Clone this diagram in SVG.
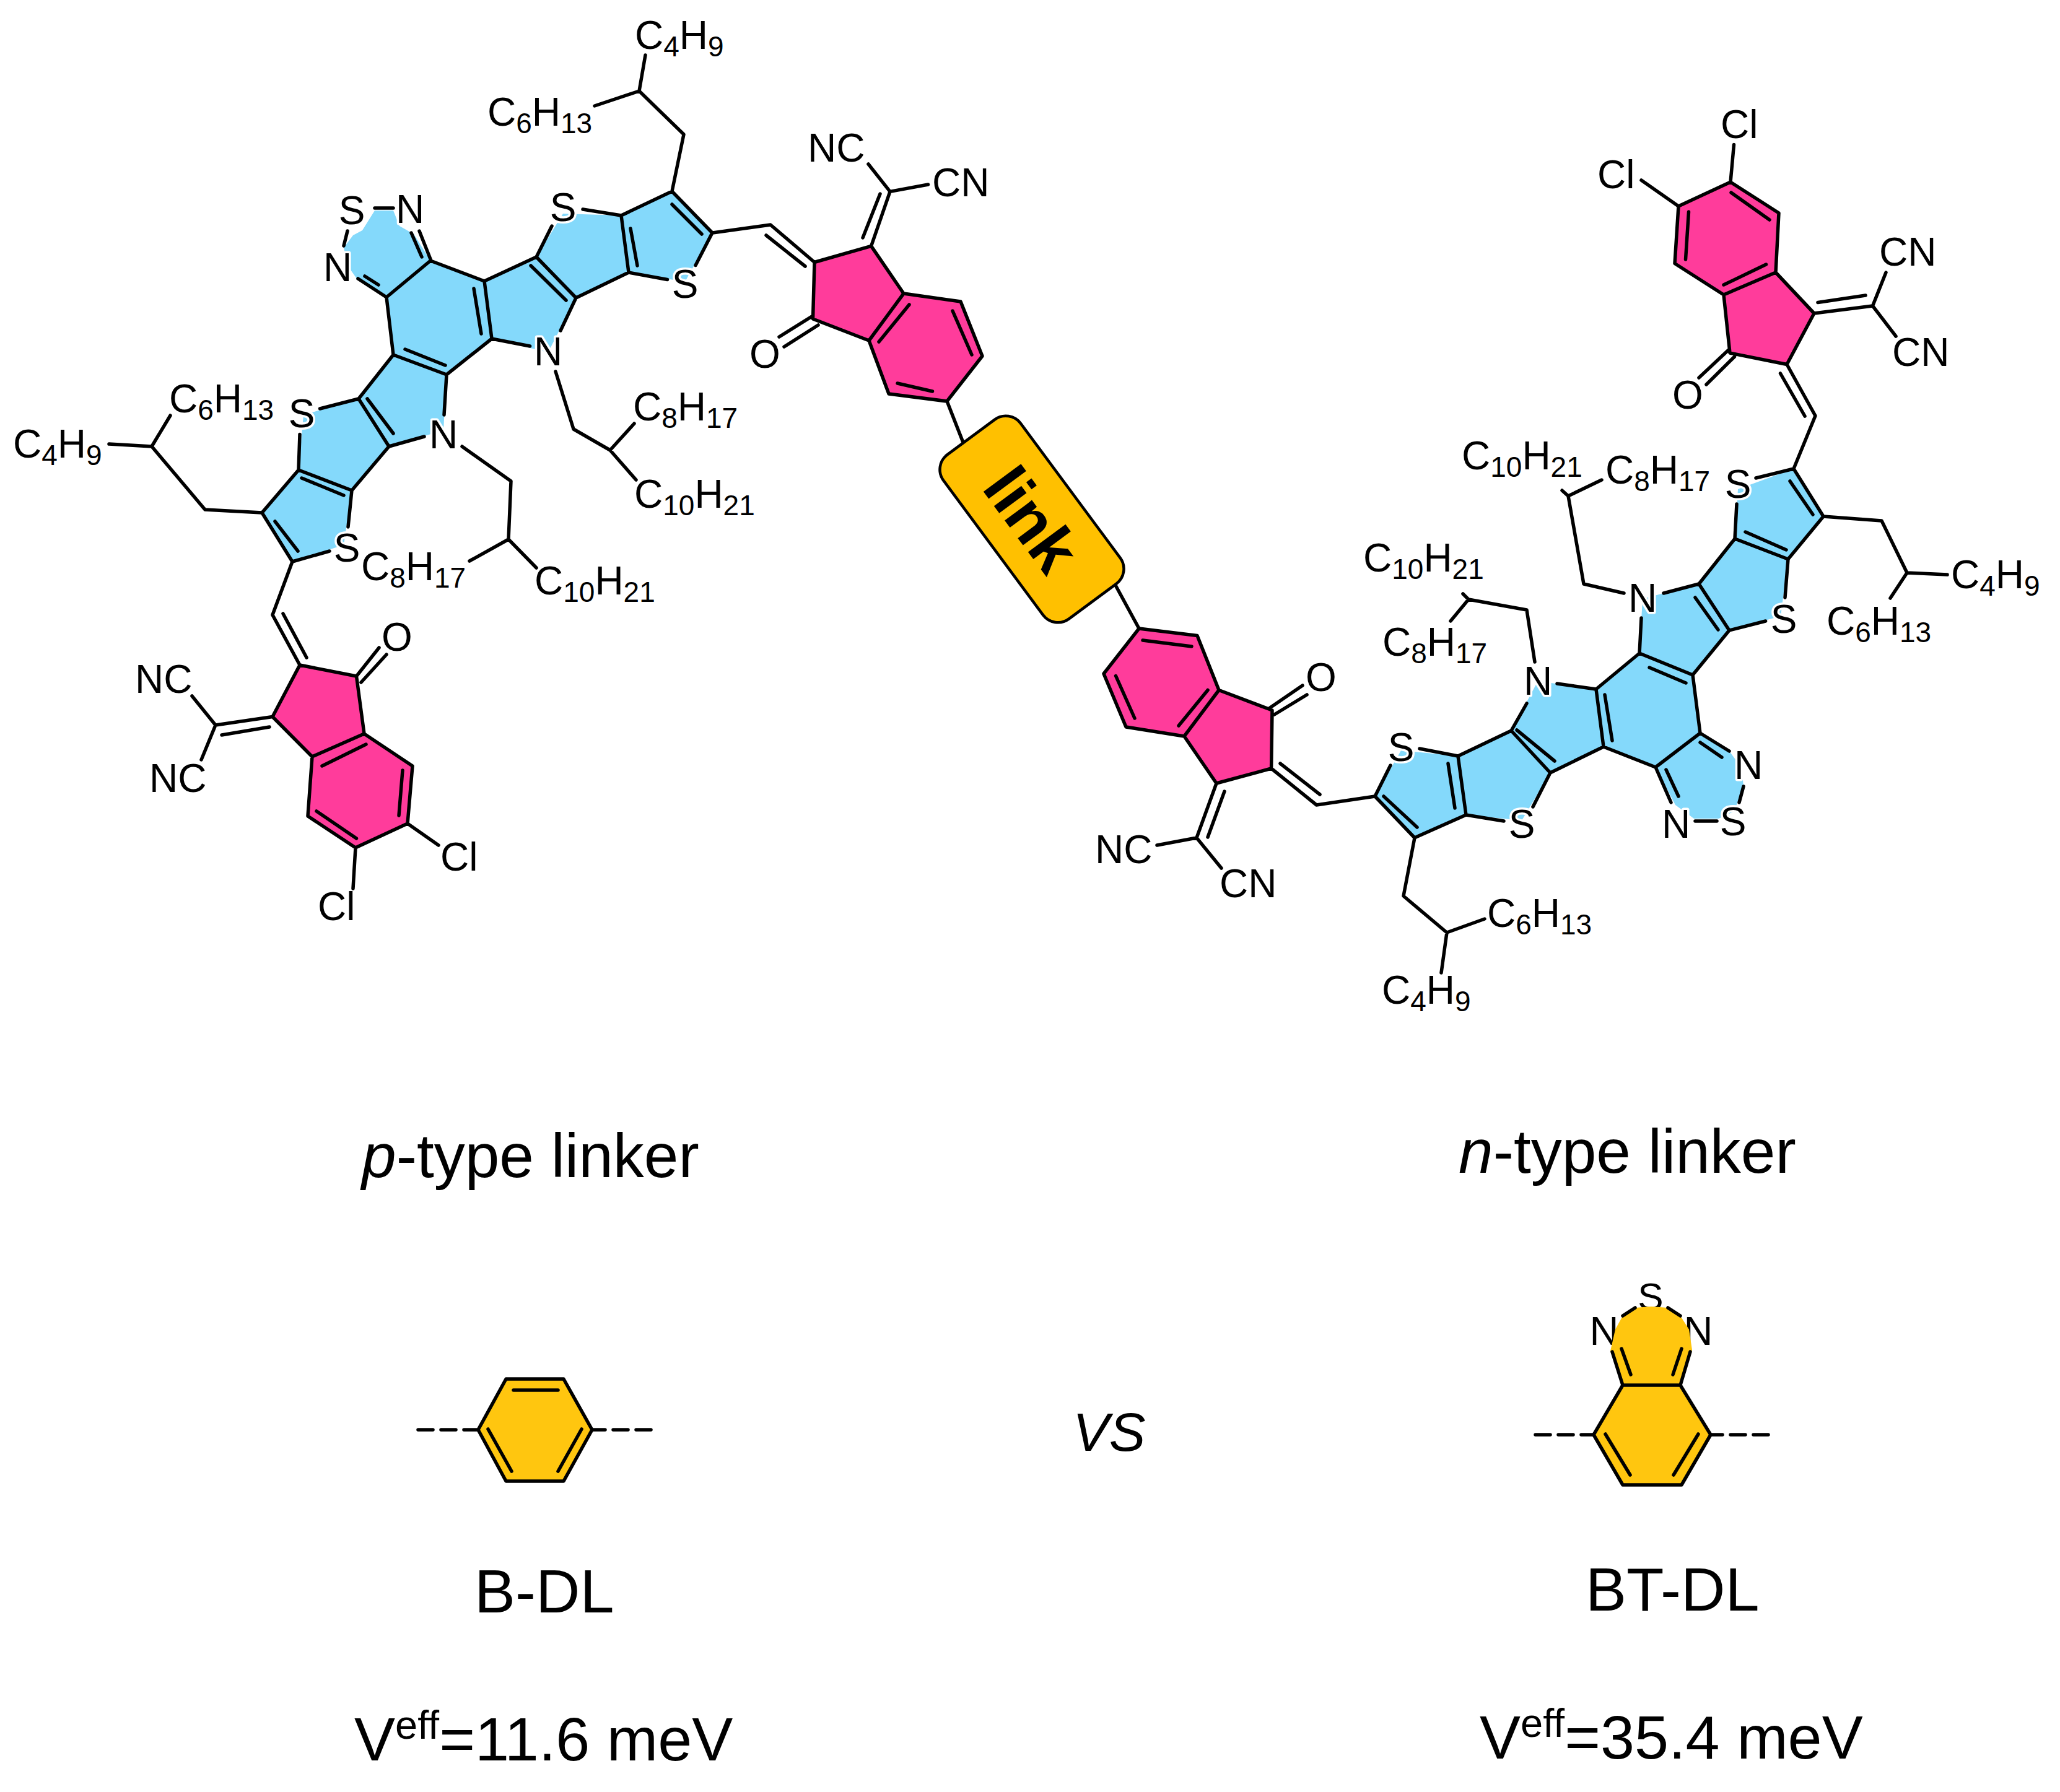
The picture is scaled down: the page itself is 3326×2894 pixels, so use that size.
<svg xmlns="http://www.w3.org/2000/svg" width="3326" height="2894" viewBox="0 0 3326 2894">
<style>
text{font-family:"Liberation Sans",Arial,sans-serif;fill:#000}
.t{font-size:64px}
.h{font-size:64px;text-anchor:middle;stroke:#fff;stroke-width:7px;paint-order:stroke;stroke-linejoin:round}
.s{font-size:46px}
.b{fill:none;stroke:#000;stroke-width:5.5;stroke-linecap:round;stroke-linejoin:round}
.y{fill:#FFC60F;stroke:none}
.d{fill:none;stroke:#000;stroke-width:5.5;stroke-dasharray:24 13;stroke-linecap:round}
.blue{fill:#84D9FB}
.pink{fill:#FF3C9B}
.big{font-size:99px}
.sup{font-size:65px}
</style>
<rect width="3326" height="2894" fill="#fff"/>

<g id="p-type-linker">
<g class="blue">
<polygon points="605,340 635,340 645,365 668,378 695,421 624,480 576,450 562,430 555,400 570,380 585,372"/>
<polygon points="695,421 782,454 794,547 721,605 635,573 624,480"/>
<polygon points="782,454 866,415 930,481 885,569 794,547"/>
<polygon points="866,415 909,345 1003,348 1015,440 930,481"/>
<polygon points="1003,348 1085,309 1150,376 1106,455 1015,440"/>
<polygon points="721,605 635,573 579,644 628,721 716,695"/>
<polygon points="579,644 490,670 482,759 568,792 628,721"/>
<polygon points="482,759 423,828 472,907 555,880 568,792"/>
</g>
<g class="pink">
<polygon points="484,1074 575.5,1092 588,1185 504,1222 440,1157.5"/>
<polygon points="588,1185 666,1237 658,1330 574,1369 497,1318 504,1222"/>
</g>
<g>
<text class="h" x="568" y="362">S</text>
<text class="h" x="662" y="360">N</text>
<text class="h" x="545" y="454">N</text>
<text class="h" x="909" y="357">S</text>
<text class="h" x="1106" y="481">S</text>
<text class="h" x="885" y="590">N</text>
<text class="h" x="716" y="724">N</text>
<text class="h" x="487" y="690">S</text>
<text class="h" x="560" y="907">S</text>
<text class="t" x="1025" y="79">C<tspan class="s" dy="12">4</tspan><tspan dy="-12">H</tspan><tspan class="s" dy="12">9</tspan></text>
<text class="t" x="787" y="203">C<tspan class="s" dy="12">6</tspan><tspan dy="-12">H</tspan><tspan class="s" dy="12">13</tspan></text>
<text class="t" x="1022" y="679">C<tspan class="s" dy="12">8</tspan><tspan dy="-12">H</tspan><tspan class="s" dy="12">17</tspan></text>
<text class="t" x="1024" y="820">C<tspan class="s" dy="12">10</tspan><tspan dy="-12">H</tspan><tspan class="s" dy="12">21</tspan></text>
<text class="t" x="273" y="666">C<tspan class="s" dy="12">6</tspan><tspan dy="-12">H</tspan><tspan class="s" dy="12">13</tspan></text>
<text class="t" x="21" y="739">C<tspan class="s" dy="12">4</tspan><tspan dy="-12">H</tspan><tspan class="s" dy="12">9</tspan></text>
<text class="t" x="583" y="937">C<tspan class="s" dy="12">8</tspan><tspan dy="-12">H</tspan><tspan class="s" dy="12">17</tspan></text>
<text class="t" x="863" y="960">C<tspan class="s" dy="12">10</tspan><tspan dy="-12">H</tspan><tspan class="s" dy="12">21</tspan></text>
<text class="t" x="616" y="1051">O</text>
<text class="t" x="218" y="1119">NC</text>
<text class="t" x="241" y="1279">NC</text>
<text class="t" x="711" y="1406">Cl</text>
<text class="t" x="513" y="1486">Cl</text>
<text class="t" x="1304" y="261">NC</text>
<text class="t" x="1505" y="317">CN</text>
<text class="t" x="1210" y="594">O</text>
</g>
</g>

<g id="link-node">
<g class="pink">
<polygon points="1315,423.5 1406.6,397.4 1459,474 1403,550 1312.5,515"/>
<polygon points="1459,474 1551,487 1586,575 1529,648 1435,636 1403,550"/>
<polygon points="1964,1265 2052.6,1241 2054,1147 1968,1114.5 1912,1189"/>
<polygon points="1839,1015 1933,1026.5 1968,1114.5 1912,1189 1818,1174 1782,1088"/>
</g>
<path class="b" d="M1529,648L1556,717M1801.5,946L1839,1015"/>
<rect x="1501" y="761" width="330" height="155" rx="30" fill="#FFC000" stroke="#000" stroke-width="4.5" transform="rotate(53.5 1666 838.5)"/>
<text x="1666" y="875" font-size="104" font-weight="700" text-anchor="middle" transform="rotate(53.5 1666 838.5)">link</text>
</g>

<g id="n-type-linker">
<g class="blue">
<polygon points="2896,757 2806,790 2801,870 2887,903 2944,834"/>
<polygon points="2801,870 2887,903 2875,995 2792,1018 2743,943"/>
<polygon points="2743,943 2792,1018 2733,1090 2647,1055 2652,967"/>
<polygon points="2647,1055 2733,1090 2745,1184 2673,1239 2589,1206 2577,1113"/>
<polygon points="2577,1113 2589,1206 2503,1248 2440,1180 2483,1100"/>
<polygon points="2440,1180 2503,1248 2457,1325 2367,1316 2354,1221"/>
<polygon points="2354,1221 2367,1316 2284,1353 2220,1286 2262,1212"/>
<polygon points="2745,1184 2792,1213 2812,1240 2815,1270 2800,1310 2775,1322 2735,1322 2705,1300 2673,1239"/>
</g>
<g class="pink">
<polygon points="2885,588.5 2793,570 2783,476 2867,440 2929,506"/>
<polygon points="2783,476 2704,425.5 2710,333 2794,294 2872,344 2867,440"/>
</g>
<g>
<text class="h" x="2652" y="988">N</text>
<text class="h" x="2483" y="1122">N</text>
<text class="h" x="2262" y="1229">S</text>
<text class="h" x="2457" y="1353">S</text>
<text class="h" x="2806" y="804">S</text>
<text class="h" x="2880" y="1022">S</text>
<text class="h" x="2823" y="1258">N</text>
<text class="h" x="2706" y="1353">N</text>
<text class="h" x="2798" y="1349">S</text>
<text class="t" x="2401" y="1497">C<tspan class="s" dy="12">6</tspan><tspan dy="-12">H</tspan><tspan class="s" dy="12">13</tspan></text>
<text class="t" x="2231" y="1621">C<tspan class="s" dy="12">4</tspan><tspan dy="-12">H</tspan><tspan class="s" dy="12">9</tspan></text>
<text class="t" x="2360" y="758">C<tspan class="s" dy="12">10</tspan><tspan dy="-12">H</tspan><tspan class="s" dy="12">21</tspan></text>
<text class="t" x="2592" y="781">C<tspan class="s" dy="12">8</tspan><tspan dy="-12">H</tspan><tspan class="s" dy="12">17</tspan></text>
<text class="t" x="2201" y="923">C<tspan class="s" dy="12">10</tspan><tspan dy="-12">H</tspan><tspan class="s" dy="12">21</tspan></text>
<text class="t" x="2232" y="1059">C<tspan class="s" dy="12">8</tspan><tspan dy="-12">H</tspan><tspan class="s" dy="12">17</tspan></text>
<text class="t" x="3150" y="950">C<tspan class="s" dy="12">4</tspan><tspan dy="-12">H</tspan><tspan class="s" dy="12">9</tspan></text>
<text class="t" x="2949" y="1025">C<tspan class="s" dy="12">6</tspan><tspan dy="-12">H</tspan><tspan class="s" dy="12">13</tspan></text>
<text class="t" x="2778" y="223">Cl</text>
<text class="t" x="2579" y="304">Cl</text>
<text class="t" x="3034" y="429">CN</text>
<text class="t" x="3055" y="591">CN</text>
<text class="t" x="2700" y="660">O</text>
<text class="t" x="1768" y="1394">NC</text>
<text class="t" x="1969" y="1449">CN</text>
<text class="t" x="2108" y="1116">O</text>
</g>
</g>

<g id="bonds">
<path class="b" d="M605,336L635,336M561,373L555,397M677,373L696,421M664,376L681,415M578,450L624,480M589,446L611,460
M624,480L695,421L782,454L794,547L721,605L635,573L624,480M765,466L777,539M654,564L719,590
M782,454L866,415L930,481L905,534M794,547L855.6,559M857,429L914,485
M866,415L891,365M941,338L1003,348L1015,440L930,481M1018,369L1029,429
M1003,348L1085,309L1150,376L1123,428.5M1015,440L1077.5,451.5M1085,330L1133,378
M721,605L717,670M635,573L579,644L628,721L685,705M628,721L568,792M593,644L635,700
M579,644L516.6,660M484,701.5L482,759L568,792L562,851M487,772L555,800
M482,759L423,828L472,907L532,890M444,842L481,890
M1085,309L1104,217L1032,147L1042,89M1032,147L960,171
M746,721L825,777L821,871L758,906M821,871L866,917
M897,600L926,693L985,727L1024,684M985,727L1027,775
M423,828L331,823L245,721L176,717M245,721L275,671
M472,907L440,993L484,1074L575.5,1092L588,1185L504,1222L440,1157.5L484,1074M457,991L495,1062
M588,1185L666,1237L658,1330L574,1369L497,1318L504,1222M520,1237L591,1202M650,1244L644,1317M575.5,1354L511,1310
M440,1157.5L348,1171M358,1187L435,1174M310,1124L348,1171L325,1227M658,1330L708,1365M574,1369L570,1435
M575.5,1092L612,1046M583,1102L624,1057
M1150.5,376L1244,363L1315,423.5M1237,380L1300,430
M1315,423.5L1312.5,515L1403,550L1459,474L1406.6,397.4L1315,423.5
M1406.6,397.4L1437,309.4M1393,384L1421,313M1402,265L1437,309.4L1498.5,298
M1312.5,510L1258,544M1321,525L1266,560
M1459,474L1551,487L1586,575L1529,648L1435,636L1403,550M1468,492L1419,552M1538,502L1569,573M1505.5,632L1449,619
M1839,1015L1933,1026.5L1968,1114.5L1912,1189L1818,1174L1782,1088L1839,1015M1845,1034L1924,1044M1801.5,1091.5L1832,1160M1950,1114.5L1903,1172
M1968,1114.5L2054,1147L2052.6,1241L1964,1265L1912,1189M2050.5,1143L2103,1107M2057.5,1154L2110,1122
M2052.6,1241L2125.6,1300L2220,1286M2067,1233L2131,1283
M1964,1265L1932,1353M1977,1278L1950,1352M1868,1365L1932,1353L1972,1402
M2220,1286L2284,1353M2234,1286L2288,1336M2220,1286L2245,1236M2292,1209L2354,1221L2367,1316L2284,1353M2338,1233L2349,1305
M2354,1221L2440,1180L2503,1248M2449,1179L2510,1229M2503,1248L2475,1303M2367,1316L2428,1326M2440,1180L2465,1136
M2503,1248L2589,1206L2577,1113L2514,1104M2591,1122L2603,1196M2577,1113L2647,1055L2733,1090L2745,1184L2673,1239L2589,1206M2663,1078L2722,1103
M2647,1055L2650,998M2686,958L2743,943L2792,1018L2733,1090M2737,965L2774,1017M2743,943L2801,870L2887,903M2818,859L2884,888M2792,1018L2850.6,1003M2887,903L2882,965
M2801,870L2804,814M2835,772L2896,757L2944,834L2887,903M2890,777L2927,831
M2745,1184L2792,1213M2745,1199L2780,1223M2673,1239L2698,1296M2690,1243L2710,1286M2737,1326L2772,1326M2815,1270L2808,1296
M2284,1353L2266,1447L2336,1506L2397,1484M2336,1506L2327,1571
M2622,958L2557,943L2532,801L2586,775M2532,801L2522,792
M2478,1069L2465,985L2371,968L2342,1003M2371,968L2362,959
M2944,834L3038,841L3079,925L3144,928M3079,925L3052,966
M2896,757L2931,671.5L2885,588.5L2793,570L2783,476L2867,440L2929,506L2885,588.5M2874.5,603L2914,672
M2783,476L2704,425.5L2710,333L2794,294L2872,344L2867,440M2857,355L2795,311M2726.5,342L2721.5,419M2783,460L2851.5,427
M2929,506L3023.5,494M2935,488.5L3012,477M3045,440L3023.5,494L3061,543M2794,294L2799.5,233.6M2710,333L2650,291
M2792,564L2743,610M2800.5,576L2755,621"/>
</g>

<g id="B-DL">
<polygon class="y" points="817,2227 910,2227 956,2309 910,2392 817,2392 772,2309"/>
<path class="b" d="M817,2227L910,2227L956,2309L910,2392L817,2392L772,2309ZM829,2245L901,2245M788,2308L826,2376M939,2308L901,2376"/>
<path class="d" d="M675,2309H772M1051,2309H956"/>
<text class="big" x="766" y="2604">B-DL</text>
<text class="big" x="572" y="2843">V<tspan class="sup" dy="-35">eff</tspan><tspan dy="35">=11.6 meV</tspan></text>
</g>

<g id="BT-DL">
<text x="2590" y="2172" font-size="65" text-anchor="middle">N</text>
<text x="2742" y="2172" font-size="65" text-anchor="middle">N</text>
<text x="2665" y="2115" font-size="62" text-anchor="middle">S</text>
<polygon class="y" points="2620,2237 2713,2237 2732,2180 2727,2147 2713,2125 2693,2112 2666,2110 2640,2112 2620,2125 2608,2147 2600,2182"/>
<polygon class="y" points="2620,2237 2713,2237 2762,2317 2715,2398 2620,2398 2573,2317"/>
<path class="b" d="M2620,2237L2713,2237L2762,2317L2715,2398L2620,2398L2573,2317ZM2592,2316L2632,2382M2742,2316L2702,2382M2620,2237L2603,2183M2713,2237L2729,2183M2633,2220L2618,2178M2701,2220L2715,2178M2620,2125L2640,2112M2693,2112L2713,2125"/>
<path class="d" d="M2479,2317H2573M2855,2317H2762"/>
<text class="big" x="2560" y="2601">BT-DL</text>
<text class="big" x="2389" y="2840">V<tspan class="sup" dy="-35">eff</tspan><tspan dy="35">=35.4 meV</tspan></text>
</g>

<g id="captions">
<text x="584" y="1901" style="font-size:100px"><tspan font-style="italic">p</tspan>-type linker</text>
<text x="2355" y="1894" style="font-size:100px"><tspan font-style="italic">n</tspan>-type linker</text>
<text x="1732" y="2343" font-size="88" font-style="italic">VS</text>
</g>
</svg>
